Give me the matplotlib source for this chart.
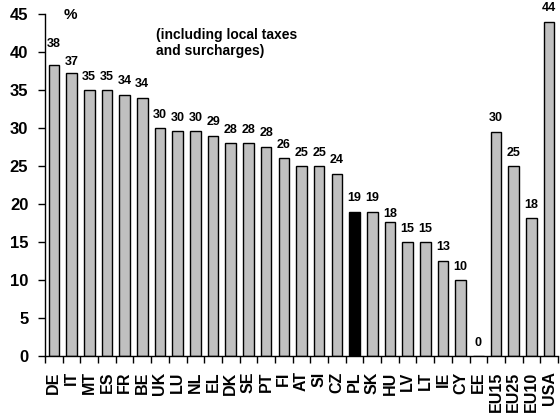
import math
import matplotlib
matplotlib.use("Agg")
import matplotlib.pyplot as plt

plt.rcParams['font.family'] = ['Liberation Sans', 'DejaVu Sans']
plt.rcParams['font.weight'] = 'bold'

countries = ["DE", "IT", "MT", "ES", "FR", "BE", "UK", "LU", "NL", "EL", "DK", "SE",
             "PT", "FI", "AT", "SI", "CZ", "PL", "SK", "HU", "LV", "LT", "IE", "CY",
             "EE", "EU15", "EU25", "EU10", "USA"]
rates = [38.3, 37.3, 35.0, 35.0, 34.4, 34.0, 30.0, 29.6, 29.6, 29.0, 28.0, 28.0,
         27.5, 26.0, 25.0, 25.0, 24.0, 19.0, 19.0, 17.6, 15.0, 15.0, 12.5, 10.0,
         0.0, 29.5, 25.0, 18.1, 44.0]
highlight = "PL"
y_ticks = [0, 5, 10, 15, 20, 25, 30, 35, 40, 45]

# extra vertical shift (pixels) for a few value labels
label_nudge = {"DE": 7, "IT": -3, "HU": -5}

fig = plt.figure(figsize=(5.60, 4.17), dpi=100)
ax = fig.add_axes([45 / 560, 1 - 356 / 417, 513 / 560, 342 / 417])

x = list(range(len(countries)))
colors = ["black" if c == highlight else "#c0c0c0" for c in countries]
bars = ax.bar(x, rates, width=0.6, color=colors, edgecolor="black", linewidth=1.0)

for xi, c, v in zip(x, countries, rates):
    label = str(int(math.floor(v + 0.5)))
    ax.annotate(label, (xi, v), xytext=(0, 13.5 + label_nudge.get(c, 0)),
                textcoords="offset pixels", ha="center", va="center",
                fontsize=9, fontweight="bold")

ax.set_xlim(-0.5, len(countries) - 0.5)
ax.set_ylim(0, 45)
ax.set_yticks(y_ticks)
ax.tick_params(axis="y", labelsize=12, length=5, width=1, pad=7, direction="out")

# category labels, with tick marks on the category boundaries
ax.set_xticks(x)
ax.set_xticklabels(countries, rotation=90, fontsize=11.5, fontweight="bold", va="top")
ax.tick_params(axis="x", which="major", length=0, pad=11)
ax.set_xticks([i - 0.5 for i in range(len(countries) + 1)], minor=True)
ax.tick_params(axis="x", which="minor", length=5, width=1, direction="out")

for lbl in ax.get_yticklabels():
    lbl.set_fontweight("bold")

ax.spines["top"].set_visible(False)
ax.spines["right"].set_visible(False)
ax.spines["left"].set_linewidth(1)
ax.spines["bottom"].set_linewidth(1)

fig.text(70 / 560, 1 - 15 / 417, "%", ha="center", va="center",
         fontsize=11, fontweight="bold")
fig.text(156 / 560, 1 - 28 / 417, "(including local taxes\nand surcharges)",
         ha="left", va="top", fontsize=10, fontweight="bold", linespacing=1.2)

fig.savefig("out.png", dpi=100)
